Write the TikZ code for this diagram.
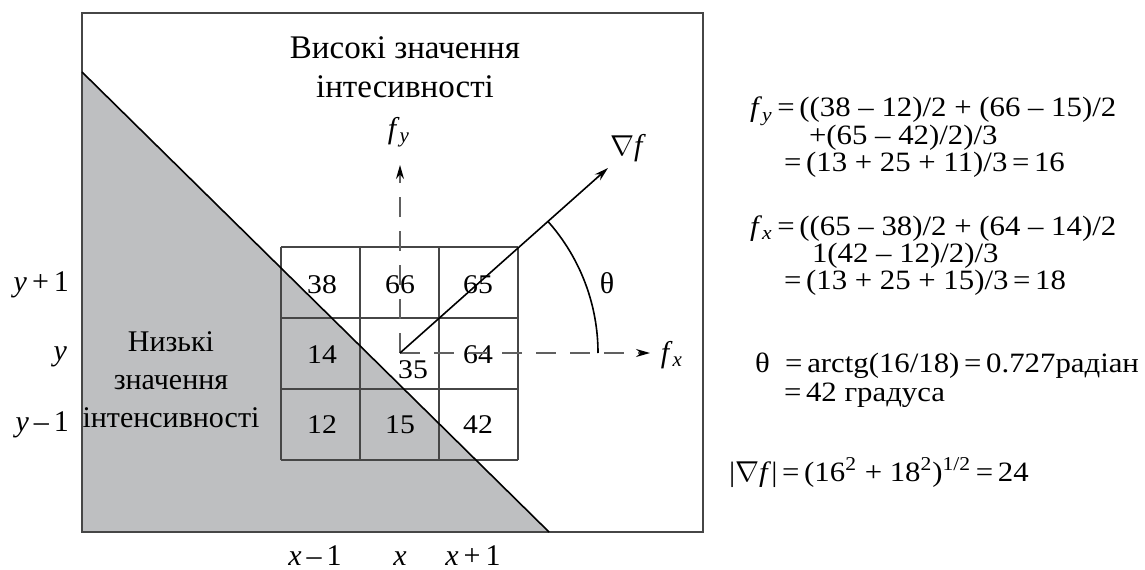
\documentclass[tikz,border=0pt]{standalone}
\usepackage{fontspec}
\setmainfont{Liberation Serif}
\newfontfamily\eqfont{Liberation Serif}[FakeStretch=1.1]
\usepackage{xcolor}
\usepackage{tikz}
\usetikzlibrary{arrows.meta}
\definecolor{lowgray}{RGB}{190,191,193}
\definecolor{gridgray}{RGB}{70,70,70}
\newcommand{\fsub}[1]{\textit{f}\textsubscript{\textit{#1}}}

\begin{document}
\begin{tikzpicture}[x=0.5pt,y=0.5pt,
  every node/.style={font=\fontsize{15}{19}\selectfont},
  cellnum/.style={font=\eqfont\fontsize{13.5}{16}\selectfont},
  eqline/.style={anchor=base west,font=\eqfont\fontsize{14}{16}\selectfont},
  dashline/.style={gray!75!black,line width=1pt,dash pattern=on 10pt off 7pt},
  vec/.style={line width=0.8pt,-{Stealth[black,length=7pt,width=4pt]}}]
\useasboundingbox (0,0) rectangle (1145,569);
% low intensity side and frame
\fill[lowgray] (82,497) -- (549,37) -- (82,37) -- cycle;
\draw[gridgray,line width=1pt] (82,37) rectangle (703,556);
% 3x3 neighbourhood
\draw[gridgray,line width=1pt,shift={(281,109)}] (0,0) grid[xstep=79,ystep=71] (237,213);
\draw[line width=0.8pt] (82,497) -- (549,37);
\node[cellnum] (c38) at (322,284) {38};
\node[cellnum] (c66) at (400,284) {66};
\node[cellnum] (c65) at (478,284) {65};
\node[cellnum] (c14) at (322,214) {14};
\node[cellnum] (c35) at (413,199) {35};
\node[cellnum] (c64) at (478,214) {64};
\node[cellnum] (c12) at (322,144) {12};
\node[cellnum] (c15) at (400,144) {15};
\node[cellnum] (c42) at (478,144) {42};
% gradient vectors
\coordinate (o) at (400,216);
\coordinate (fytip) at (400,404);
\coordinate (fxtip) at (650,216);
\coordinate (gtip) at (608,401);
\draw[dashline,vec] (o) -- (fytip);
\draw[dashline,vec] (o) -- (fxtip);
\draw[vec] (o) -- (gtip);
\draw[line width=0.8pt] ([shift={(0:198)}]o) arc[start angle=0,end angle=41.6,radius=198];
\node (fylab) at (399,437) {\fsub{y}};
\node (fxlab) at (672,214) {\fsub{x}};
\node (gradlab) at (628,421) {$\nabla$\textit{f}};
\node (theta) at (607,286) {θ};
% region labels
\node[align=center,font=\fontsize{16.5}{19.5}\selectfont] (high) at (405,502) {Високі значення\\інтесивності};
\node[align=center] (low) at (171,189) {Низькі\\значення\\інтенсивності};
% pixel indices
\node[anchor=east] (yp) at (76,284) {\textit{y}\,+\,1};
\node[anchor=east] (y0) at (74,212) {\textit{y}};
\node[anchor=east] (ym) at (76,144) {\textit{y}\,–\,1};
\node[anchor=base] (xm) at (315,4) {\textit{x}\,–\,1};
\node[anchor=base] (x0) at (400,4) {\textit{x}};
\node[anchor=base] (xp) at (473,4) {\textit{x}\,+\,1};
% worked values
\node[eqline] (eqa) at (743,452) {\fsub{y}\,=\,((38 – 12)/2 + (66 – 15)/2};
\node[eqline] (eqb) at (802,425) {+(65 – 42)/2)/3};
\node[eqline] (eqc) at (777,398) {=\,(13 + 25 + 11)/3\,=\,16};
\node[eqline] (eqd) at (743,334) {\fsub{x}\,=\,((65 – 38)/2 + (64 – 14)/2};
\node[eqline] (eqe) at (805,307) {1(42 – 12)/2)/3};
\node[eqline] (eqf) at (777,280) {=\,(13 + 25 + 15)/3\,=\,18};
\node[eqline] (eqg) at (748,197) {θ\ \ =\,arctg(16/18)\,=\,0.727радіан};
\node[eqline] (eqh) at (777,168) {=\,42 градуса};
\node[eqline] (eqi) at (722,88) {|$\nabla$\textit{f}|\,=\,(16\textsuperscript{2} + 18\textsuperscript{2})\textsuperscript{1/2}\,=\,24};
\end{tikzpicture}
\end{document}
